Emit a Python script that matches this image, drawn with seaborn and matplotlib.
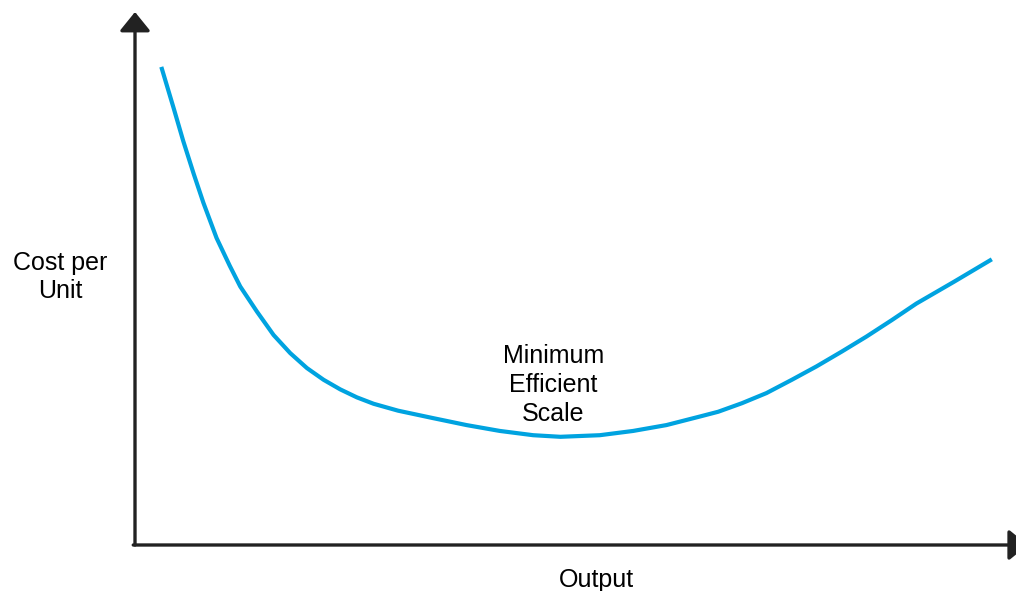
import matplotlib
import matplotlib.pyplot as plt
import pandas as pd
import seaborn as sns

matplotlib.use("Agg")

# average cost curve (output, cost per unit), both on a 0-100 scale
output = [3.0, 4.4, 5.5, 6.7, 7.8, 9.3, 10.8, 12.0, 13.9, 15.8, 17.7, 19.6, 21.5,
          23.4, 25.3, 27.2, 30.0, 34.0, 37.8, 41.6, 45.4, 48.5, 53.0, 56.8, 60.6,
          64.4, 66.5, 69.2, 72.0, 74.9, 77.7, 80.6, 83.4, 86.3, 89.1, 93.4, 97.7]
cost = [89.7, 82.0, 75.8, 69.6, 64.2, 57.6, 52.4, 48.5, 43.8, 39.4, 36.0, 33.2, 31.0,
        29.2, 27.7, 26.5, 25.2, 23.8, 22.5, 21.4, 20.6, 20.3, 20.6, 21.4, 22.5,
        24.1, 25.0, 26.6, 28.5, 31.0, 33.5, 36.3, 39.1, 42.2, 45.3, 49.4, 53.6]

x_label = "Output"
y_label = "Cost per\nUnit"
mes_label = "Minimum\nEfficient\nScale"

CURVE_COLOR = "#00a3e0"
AXIS_COLOR = "#222222"
W, H = 1016, 591


def main() -> None:
    sns.set_theme(style="white")
    plt.rcParams["font.family"] = ["Liberation Sans", "DejaVu Sans"]

    df = pd.DataFrame({"output": output, "cost": cost})

    fig = plt.figure(figsize=(W / 100, H / 100), dpi=100, facecolor="white")
    ax = fig.add_axes([135 / W, 46 / H, 877 / W, 533 / H])
    ax.set_facecolor("white")

    sns.lineplot(data=df, x="output", y="cost", color=CURVE_COLOR, linewidth=3,
                 ax=ax, sort=False, solid_capstyle="butt", solid_joinstyle="round")

    ax.set_xlim(0, 100)
    ax.set_ylim(0, 100)
    ax.set_xticks([])
    ax.set_yticks([])
    ax.set_xlabel("")
    ax.set_ylabel("")
    for spine in ax.spines.values():
        spine.set_visible(False)

    arrow = dict(arrowstyle="-|>,head_length=0.58,head_width=0.47", lw=2.4,
                 color=AXIS_COLOR, shrinkA=0, shrinkB=0, mutation_scale=20)
    ax.annotate("", xy=(0, 1), xytext=(0, 0), xycoords="axes fraction",
                arrowprops=arrow, annotation_clip=False)
    ax.annotate("", xy=(1.018, 0), xytext=(-0.002, 0), xycoords="axes fraction",
                arrowprops=arrow, annotation_clip=False)

    ax.text(-8.55, 50.3, y_label, ha="center", va="center", fontsize=18,
            color="black", linespacing=1.25, clip_on=False)
    ax.text(52.6, -6.6, x_label, ha="center", va="center", fontsize=18,
            color="black", clip_on=False)
    ax.text(47.7, 30.0, mes_label, ha="center", va="center", fontsize=18,
            color="black", linespacing=1.25)

    fig.savefig("out.png", dpi=100, facecolor="white")
    plt.close(fig)


if __name__ == "__main__":
    main()
